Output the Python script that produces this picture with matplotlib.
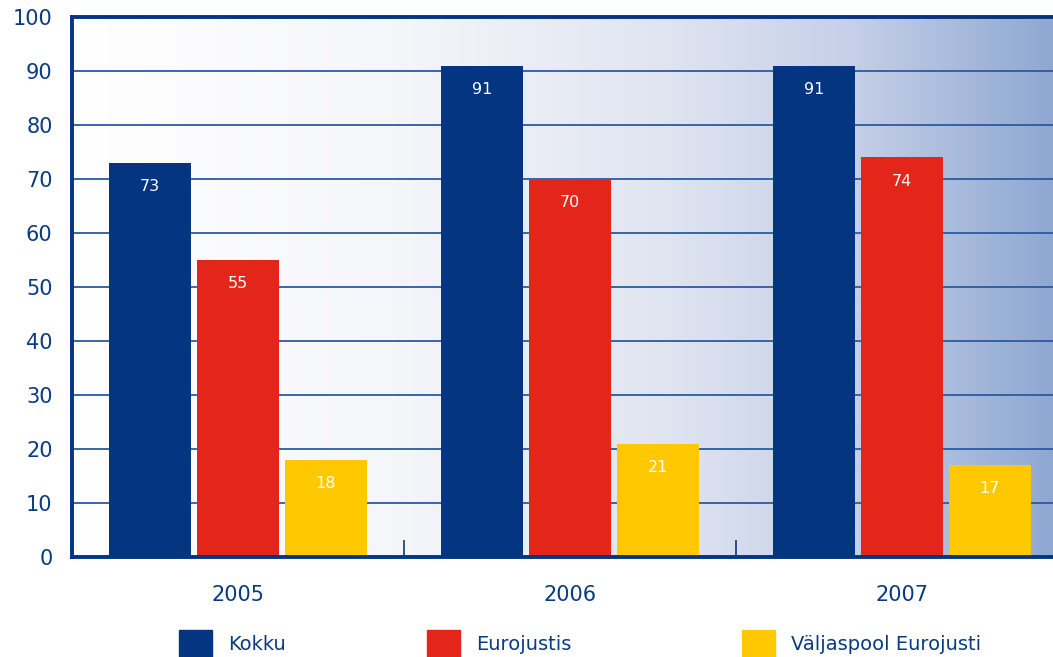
import matplotlib
matplotlib.use("Agg")
import matplotlib.pyplot as plt
import numpy as np
from matplotlib.colors import LinearSegmentedColormap
from matplotlib.patches import Rectangle

years = ["2005", "2006", "2007"]
series_names = ["Kokku", "Eurojustis", "Väljaspool Eurojusti"]
kokku = [73, 91, 91]
eurojustis = [55, 70, 74]
valjaspool = [18, 21, 17]
colors = ["#033580", "#e32619", "#ffc800"]
navy = "#0a3a80"

fig = plt.figure(figsize=(10.53, 6.57), dpi=100)
ax = fig.add_axes([72/1053, 1-557/657, (1053-72)/1053, (557-17)/657])

# gradient background
cmap = LinearSegmentedColormap.from_list("bg", [
    (0.0, (1, 1, 1)),
    (0.33, (245/255, 246/255, 250/255)),
    (0.6, (224/255, 229/255, 241/255)),
    (0.8, (197/255, 207/255, 231/255)),
    (1.0, (143/255, 168/255, 210/255)),
])
grad = np.linspace(0, 1, 512).reshape(1, -1)
xmin, xmax = -0.5, 2.455
ax.imshow(grad, aspect="auto", cmap=cmap, extent=[xmin, xmax, 0, 100], zorder=0)

x = np.arange(len(years))
w = 0.247
off = 0.265
for i, (vals, c) in enumerate(zip([kokku, eurojustis, valjaspool], colors)):
    bars = ax.bar(x + (i - 1) * off, vals, width=w, color=c, zorder=3)
    for b, v in zip(bars, vals):
        ax.text(b.get_x() + b.get_width()/2, v - 4.4, str(v), ha="center", va="center",
                color="white", fontsize=11.5, zorder=4)

ax.set_xlim(xmin, xmax)
ax.set_ylim(0, 100)
ax.set_yticks(range(0, 101, 10))
ax.yaxis.grid(True, color="#2c5aa0", linewidth=1.3, zorder=1)
ax.set_axisbelow(True)
ax.tick_params(axis="y", length=0, labelsize=15, labelcolor=navy, pad=14)
ax.set_xticks(x)
ax.set_xticklabels(years)
ax.tick_params(axis="x", length=0, labelsize=15, labelcolor=navy, pad=20)
ax.set_xticks([0.5, 1.5], minor=True)
ax.tick_params(axis="x", which="minor", direction="in", length=12, width=1.2, color=navy)

for s in ["left", "bottom", "top"]:
    ax.spines[s].set_color("#033580")
    ax.spines[s].set_linewidth(2.8)
    ax.spines[s].set_zorder(5)
ax.spines["right"].set_visible(False)

# legend
leg_items = [(179, "Kokku"), (427, "Eurojustis"), (742, "Väljaspool Eurojusti")]
for (px, name), c in zip(leg_items, colors):
    fig.add_artist(Rectangle((px/1053, 0/657), 33/1053, 27/657, transform=fig.transFigure,
                             color=c))
    fig.text((px + 49)/1053, 1 - 645/657, name, ha="left", va="center", fontsize=14,
             color=navy)

fig.savefig("out.png", dpi=100)
